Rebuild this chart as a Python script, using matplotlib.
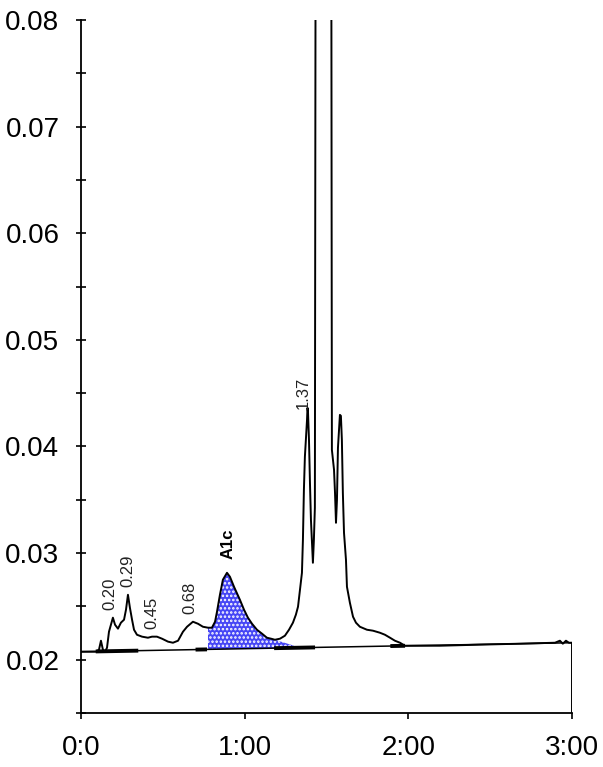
import numpy as np
import matplotlib
matplotlib.use("Agg")
import matplotlib.pyplot as plt
from matplotlib.ticker import MultipleLocator, FixedLocator, FixedFormatter

plt.rcParams['font.family'] = ['Liberation Sans', 'DejaVu Sans']
plt.rcParams['hatch.linewidth'] = 1.2

# ---- data: chromatogram trace (time in minutes, absorbance) ----
time_min = [0.000, 0.055, 0.092, 0.110, 0.122, 0.134, 0.147, 0.159, 0.171, 0.183,
            0.195, 0.208, 0.226, 0.244, 0.263, 0.275, 0.287, 0.299, 0.312, 0.324,
            0.342, 0.373, 0.409, 0.434, 0.464, 0.495, 0.532, 0.562, 0.593, 0.623,
            0.648, 0.684, 0.715, 0.745, 0.776, 0.800, 0.819, 0.831, 0.849, 0.867,
            0.892, 0.910, 0.935, 0.971, 0.996, 1.020, 1.045, 1.075, 1.106, 1.136,
            1.161, 1.185, 1.216, 1.246, 1.271, 1.295, 1.313, 1.326, 1.338, 1.350,
            1.356, 1.362, 1.368, 1.374, 1.381, 1.384, 1.387, 1.393, 1.399, 1.405,
            1.417, 1.423, 1.429, 1.436, 1.478, 1.527, 1.533, 1.546, 1.552, 1.558,
            1.564, 1.570, 1.582, 1.588, 1.594, 1.600, 1.607, 1.619, 1.625, 1.643,
            1.662, 1.680, 1.704, 1.747, 1.784, 1.826, 1.857, 1.888, 1.918, 1.949,
            1.979, 2.010, 2.193, 2.437, 2.682, 2.896, 2.926, 2.944, 2.963, 2.981,
            3.000]
signal = [0.02075, 0.02075, 0.02075, 0.02094, 0.02178, 0.02094, 0.02075, 0.02112, 0.02262, 0.02328,
          0.02394, 0.02328, 0.02291, 0.02347, 0.02375, 0.02469, 0.02609, 0.02487, 0.02375, 0.02281,
          0.02234, 0.02216, 0.02206, 0.02216, 0.02216, 0.02197, 0.02169, 0.02159, 0.02178, 0.02262,
          0.02309, 0.02356, 0.02337, 0.02309, 0.02300, 0.02300, 0.02356, 0.02450, 0.02609, 0.02750,
          0.02815, 0.02778, 0.02684, 0.02562, 0.02469, 0.02394, 0.02337, 0.02281, 0.02244, 0.02206,
          0.02197, 0.02187, 0.02197, 0.02225, 0.02281, 0.02347, 0.02422, 0.02497, 0.02656, 0.02815,
          0.03125, 0.03593, 0.03903, 0.04062, 0.04249, 0.04362, 0.04324, 0.04062, 0.03659, 0.03312,
          0.02909, 0.03125, 0.03425, 0.12000, 0.16000, 0.12000, 0.03968, 0.03781, 0.03565, 0.03284,
          0.03500, 0.03987, 0.04296, 0.04287, 0.04062, 0.03565, 0.03190, 0.02937, 0.02684, 0.02534,
          0.02403, 0.02347, 0.02309, 0.02281, 0.02272, 0.02253, 0.02234, 0.02206, 0.02178, 0.02159,
          0.02131, 0.02131, 0.02131, 0.02141, 0.02150, 0.02159, 0.02178, 0.02150, 0.02178, 0.02159,
          0.02159]

# drawn baseline (start/end)
baseline_t = [0.0, 3.0]
baseline_y = [0.02075, 0.02159]

# A1c integrated peak: start/end and tail skim
a1c_start, a1c_end = 0.776, 1.30
a1c_tail_t = [1.185, 1.30]
a1c_tail_y = [0.02187, 0.02132]

# integration event marks (start, end) along the baseline
event_start = [0.09, 0.70, 1.18, 1.89]
event_end = [0.35, 0.77, 1.43, 1.98]

# peak labels
peak_names = ["0.20", "0.29", "0.45", "0.68", "A1c", "1.37"]
peak_times = [0.177, 0.287, 0.434, 0.666, 0.898, 1.368]

# axis ticks
x_ticks = [0, 1, 2, 3]
x_ticklabels = ["0:0", "1:00", "2:00", "3:00"]
y_ticks = [0.02, 0.03, 0.04, 0.05, 0.06, 0.07, 0.08]

# ---- figure ----
fig = plt.figure(figsize=(6.03, 7.67), dpi=100)
ax = fig.add_axes([0.1343, 0.0704, 0.8143, 0.9036])
ymin, ymax = 0.015, 0.08
ax.set_xlim(0, 3)
ax.set_ylim(ymin, ymax)

t = np.array(time_min)
s = np.array(signal)

# baseline
ax.plot(baseline_t, baseline_y, color='black', lw=1.1, zorder=2)

# A1c fill
tf = np.linspace(a1c_start, a1c_end, 300)
upper = np.interp(tf, t, s)
tail = np.interp(tf, a1c_tail_t, a1c_tail_y)
upper = np.where(tf > a1c_tail_t[0], np.minimum(upper, tail), upper)
lower = np.interp(tf, baseline_t, baseline_y)
ax.fill_between(tf, lower, upper, facecolor='#4646f5', edgecolor='white',
                hatch='....', lw=0, zorder=1)

# event marks
for a, b in zip(event_start, event_end):
    ax.plot([a, b], np.interp([a, b], baseline_t, baseline_y), color='black',
            lw=2.8, solid_capstyle='butt', zorder=2)

# trace
ax.plot(t, s, color='black', lw=1.4, zorder=3)

# vertical drop at the end
ax.plot([t[-1], t[-1]], [ymin, s[-1]], color='black', lw=1.4, zorder=3)

# peak labels placed above local maximum
for name, pt in zip(peak_names, peak_times):
    win = (t >= pt - 0.025) & (t <= pt + 0.025)
    pv = s[win].max()
    if name == "A1c":
        ax.annotate(name, (pt, pv), xytext=(0, 10), textcoords='offset points',
                    rotation=90, ha='center', va='bottom', fontsize=12,
                    fontweight='bold', color='black')
    elif name == "1.37":
        ax.annotate(name, (pt, pv), xytext=(-1, -1), textcoords='offset points',
                    rotation=90, ha='center', va='bottom', fontsize=12,
                    color='#222222')
    else:
        ax.annotate(name, (pt, pv), xytext=(0, 5.5), textcoords='offset points',
                    rotation=90, ha='center', va='bottom', fontsize=12,
                    color='#222222')

# spines
for sp in ['top', 'right']:
    ax.spines[sp].set_visible(False)
for sp in ['left', 'bottom']:
    ax.spines[sp].set_linewidth(1.3)

ax.xaxis.set_major_locator(FixedLocator(x_ticks))
ax.xaxis.set_major_formatter(FixedFormatter(x_ticklabels))
ax.yaxis.set_major_locator(FixedLocator(y_ticks))
ax.yaxis.set_minor_locator(MultipleLocator(0.01, offset=0.005))
ax.yaxis.set_major_formatter(matplotlib.ticker.FormatStrFormatter('%.2f'))

ax.tick_params(axis='y', which='both', direction='inout', length=7, width=1.2,
               labelsize=20, pad=12)
ax.tick_params(axis='x', which='major', direction='out', length=4, width=1.2,
               labelsize=20, pad=12)

fig.savefig("out.png", dpi=100)
